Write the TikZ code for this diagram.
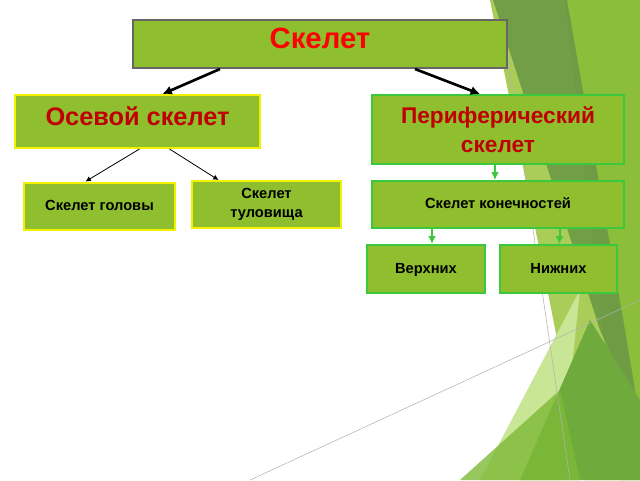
\documentclass[tikz,border=0pt]{standalone}
\usepackage{fontspec}
\setmainfont{Liberation Sans}
\usetikzlibrary{arrows.meta}
\newdimen\pxu \pxu=0.75pt
\begin{document}
\begin{tikzpicture}[x=0.75pt,y=-0.75pt,
  bx/.style={draw, fill=boxg, line width=1.5pt, inner sep=0pt, font=\bfseries},
  yb/.style={bx, draw=yel},
  gb/.style={bx, draw=grn},
  one/.style={text height=1.6ex, text depth=0.4ex},
  ga/.style={draw=grn, line width=1.5pt, -{Latex[length=6pt,width=6pt]}}]
\definecolor{boxg}{HTML}{8FBF2F}
\definecolor{yel}{HTML}{F2F200}
\definecolor{grn}{HTML}{3CC83C}
\definecolor{rd}{HTML}{C00000}
\useasboundingbox (0,0) rectangle (640,480);
\fill[white] (0,0) rectangle (640,480);
% background decoration
\fill[color={rgb,255:red,170;green,205;blue,90}] (490,0) -- (640,0) -- (640,480) -- (585,480) -- cycle;
\fill[color={rgb,255:red,140;green,190;blue,60}] (565,0) -- (640,0) -- (640,480) -- (620,480) -- cycle;
\fill[color={rgb,255:red,105;green,150;blue,70},opacity=0.85] (493,0) -- (567,0) -- (625,330) -- (640,420) -- (600,330) -- cycle;
\fill[color={rgb,255:red,200;green,230;blue,150}] (580,290) -- (480,480) -- (560,480) -- cycle;
\fill[color={rgb,255:red,110;green,170;blue,60}] (590,320) -- (520,480) -- (640,480) -- (640,400) -- cycle;
\fill[color={rgb,255:red,125;green,185;blue,55},opacity=0.8] (460,480) -- (560,390) -- (580,480) -- cycle;
\draw[gray!60, line width=0.4pt] (250,480) -- (640,300);
\draw[gray!60, line width=0.4pt] (505,40) -- (570,480);
% nodes
\node[bx, one, draw=black!60, minimum width=374\pxu, minimum height=48\pxu, text=red, font=\bfseries\fontsize{22}{24}\selectfont] (sk) at (320,44) {Скелет};
\node[yb, one, minimum width=245\pxu, minimum height=53\pxu, text=rd, font=\bfseries\fontsize{19}{22}\selectfont] (os) at (137.5,121.5) {Осевой скелет};
\node[gb, minimum width=252\pxu, minimum height=69\pxu, text=rd, align=center, font=\bfseries\fontsize{17}{22}\selectfont] (pe) at (498,129.5) {Периферический\\скелет};
\node[yb, one, minimum width=151\pxu, minimum height=47\pxu, font=\bfseries\fontsize{11}{13}\selectfont] (gol) at (99.5,206) {Скелет головы};
\node[yb, minimum width=149\pxu, minimum height=47\pxu, align=center, font=\bfseries\fontsize{11}{14}\selectfont] (tul) at (266.5,204.5) {Скелет\\ туловища};
\node[gb, one, minimum width=252\pxu, minimum height=47\pxu, font=\bfseries\fontsize{11}{13}\selectfont] (kon) at (498,204.5) {Скелет конечностей};
\node[gb, one, minimum width=118\pxu, minimum height=48\pxu, font=\bfseries\fontsize{11}{13}\selectfont] (ver) at (426,269) {Верхних};
\node[gb, one, minimum width=117\pxu, minimum height=48\pxu, font=\bfseries\fontsize{11}{13}\selectfont] (niz) at (558.5,269) {Нижних};
% connectors
\draw[line width=2pt, -{Latex[length=7pt,width=7pt]}] ([xshift=-100\pxu]sk.south) -- ([xshift=25\pxu]os.north);
\draw[line width=2pt, -{Latex[length=7pt,width=7pt]}] ([xshift=95\pxu]sk.south) -- ([xshift=-18\pxu]pe.north);
\draw[line width=0.6pt, -{Latex[length=4pt,width=4pt]}] ([xshift=2\pxu]os.south) -- ([xshift=-14\pxu]gol.north);
\draw[line width=0.6pt, -{Latex[length=4pt,width=4pt]}] ([xshift=32\pxu]os.south) -- ([xshift=-48\pxu]tul.north);
\draw[ga] ([xshift=-3\pxu]pe.south) -- ([xshift=-3\pxu]kon.south |- kon.north);
\draw[ga] ([xshift=6\pxu]ver.north |- kon.south) -- ([xshift=6\pxu]ver.north);
\draw[ga] ([xshift=1\pxu]niz.north |- kon.south) -- ([xshift=1\pxu]niz.north);
\end{tikzpicture}
\end{document}
